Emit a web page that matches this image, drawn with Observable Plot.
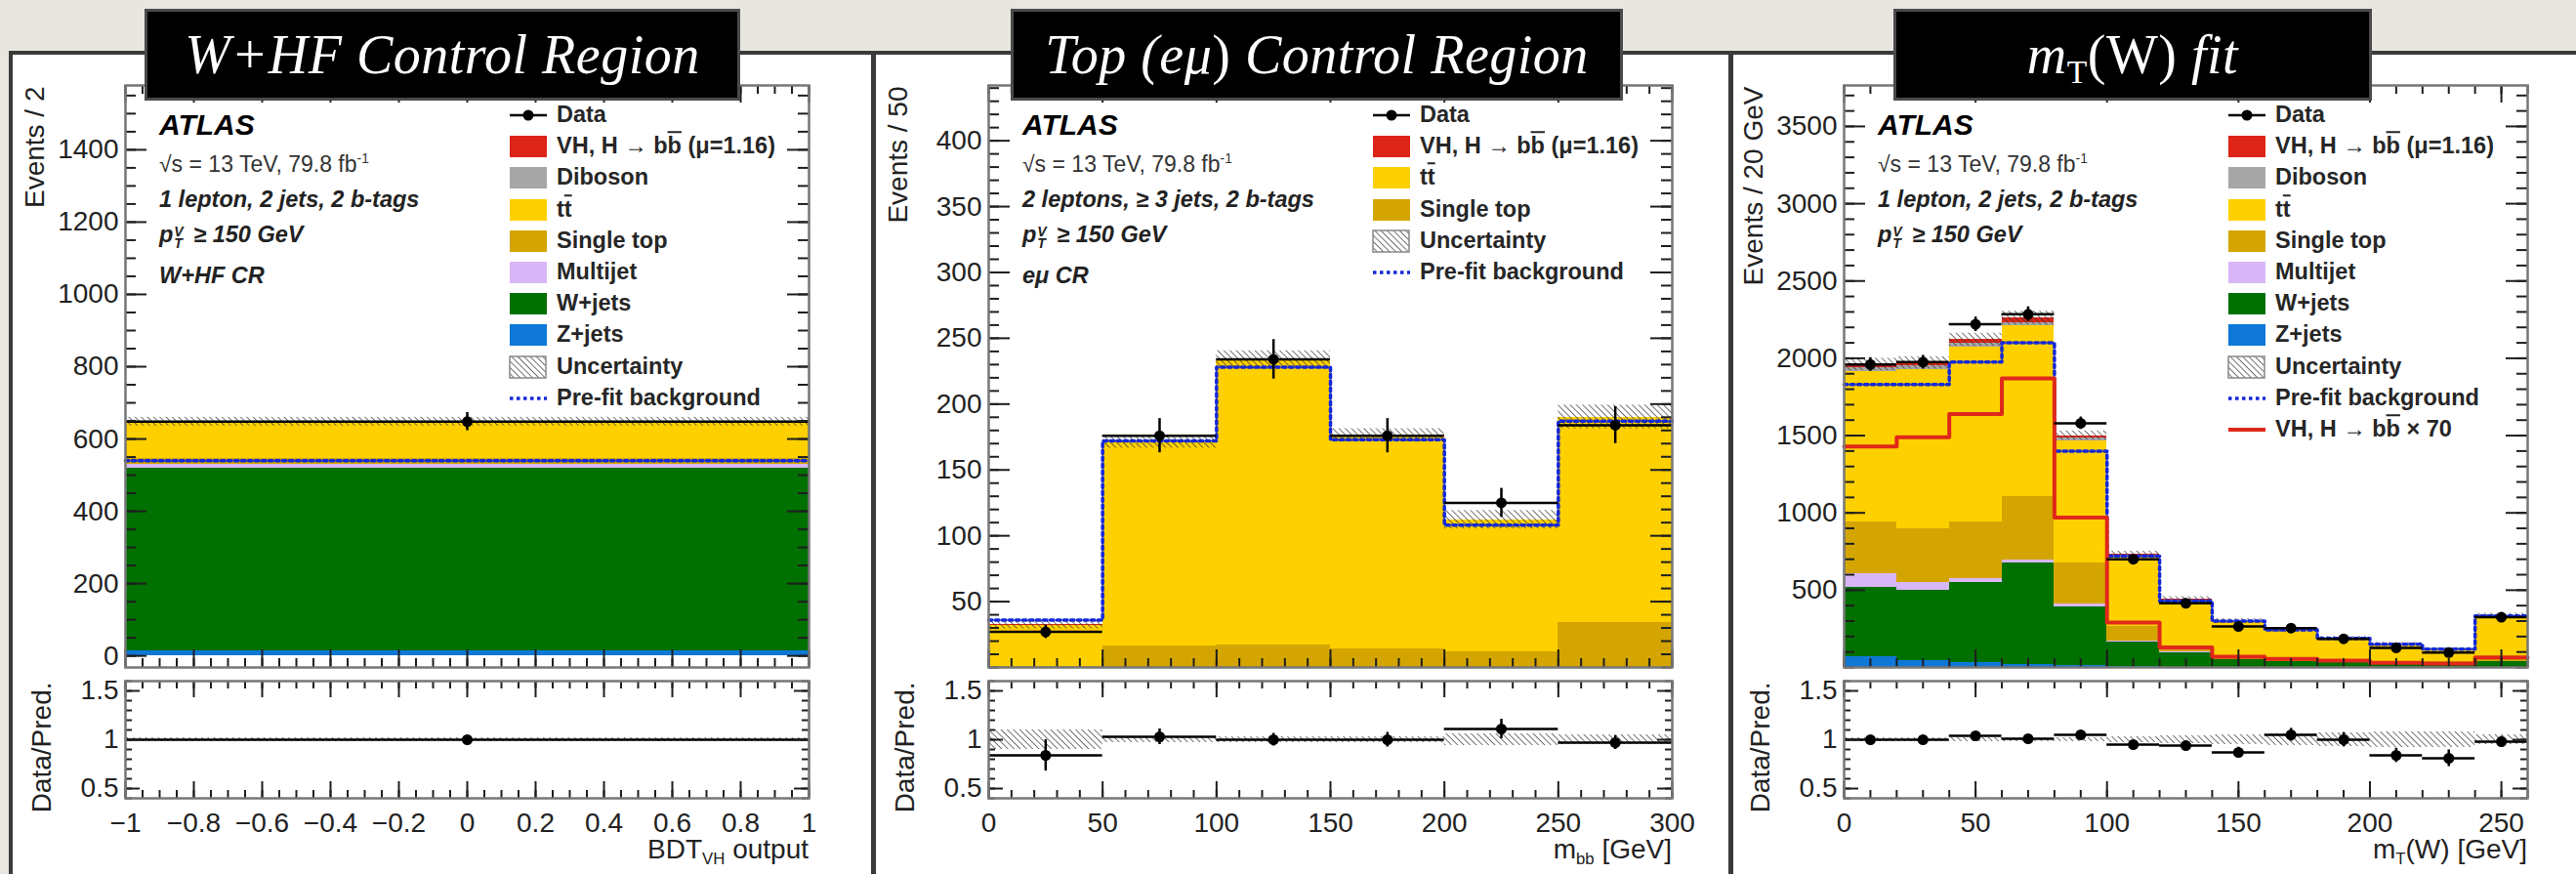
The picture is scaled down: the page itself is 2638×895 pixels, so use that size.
<!DOCTYPE html>
<html><head><meta charset="utf-8">
<script src="https://cdn.jsdelivr.net/npm/d3@7"></script>
<script src="https://cdn.jsdelivr.net/npm/@observablehq/plot@0.6"></script>
<style>
html,body{margin:0;padding:0;}
body{width:2638px;height:895px;overflow:hidden;background:#e9e6e2;position:relative;font-family:"Liberation Sans",Arial,Helvetica,sans-serif;color:#1a1a1a;}
#frame{position:absolute;left:9px;top:52px;width:2720px;height:900px;border:4px solid #3a3a3a;background:#fff;box-sizing:border-box;}
.divider{position:absolute;top:52px;width:5px;height:860px;background:#3a3a3a;}
.title{position:absolute;top:9px;height:94px;background:#000;border:3px solid #4a4a4a;box-sizing:border-box;color:#fff;font-family:"Liberation Serif","DejaVu Serif",serif;font-style:italic;font-size:56px;letter-spacing:0.5px;display:flex;align-items:center;justify-content:center;white-space:nowrap;}
.title .up{font-style:normal;}
.title sub{font-size:0.6em;font-style:normal;vertical-align:-0.3em;line-height:0;}
.t{position:absolute;white-space:nowrap;line-height:1;}
.leg{font-size:23.5px;font-weight:bold;color:#262626;}
.atlas{font-size:30px;font-weight:bold;font-style:italic;color:#000;}
.sq{font-size:23px;color:#333;}
.sq sup{font-size:0.6em;vertical-align:0.7em;}
.bi{font-size:23.5px;font-weight:bold;font-style:italic;color:#222;}
.ss{display:inline-block;vertical-align:-0.45em;line-height:0.9;font-size:0.6em;margin:0 4px 0 1px;}
.ss span{display:block;}
.ov{text-decoration:overline;}
.xt{font-size:28px;color:#222;}
.xt sub{font-size:0.6em;vertical-align:-0.35em;}
svg.plotsvg{position:absolute;}
</style>
</head><body>
<div id="frame"></div>
<div class="divider" style="left:892px"></div>
<div class="divider" style="left:1770px"></div>
<svg width="0" height="0" style="position:absolute">
  <defs>
    <pattern id="hatch" patternUnits="userSpaceOnUse" width="4.5" height="4.5" patternTransform="rotate(-45)">
      <line x1="0" y1="0" x2="0" y2="4.5" stroke="#3a3a3a" stroke-width="1.4"/>
    </pattern>
  </defs>
</svg>
<script>
// ===================== DATA =====================
// Component names and colours (stack order bottom -> top)
const compNames  = ["Zjets", "Wjets", "Multijet", "SingleTop", "ttbar", "Diboson", "VH"];
const compColors = ["#0f78d6", "#007000", "#d9b6f7", "#d4a500", "#ffd000", "#a6a6a6", "#dc2418"];

// ---- Panel 1 : W+HF control region (single BDT_VH bin) ----
const p1Edges     = [-1, 1];
const p1Zjets     = [15];
const p1Wjets     = [504];
const p1Multijet  = [11];
const p1SingleTop = [15];
const p1Ttbar     = [98];
const p1Diboson   = [3];
const p1VH        = [2];
const p1Unc       = [12];
const p1Prefit    = [540];
const p1Data      = [648];
const p1DataErr   = [25];
const p1Ratio     = [1.0];
const p1RatioErr  = [0.04];
const p1RatioUnc  = [0.02];
const p1YTicks    = [0, 200, 400, 600, 800, 1000, 1200, 1400];
const p1XTicks    = [-1, -0.8, -0.6, -0.4, -0.2, 0, 0.2, 0.4, 0.6, 0.8, 1];

// ---- Panel 2 : Top (e mu) control region, m_bb ----
const p2Edges     = [0, 50, 100, 150, 200, 250, 300];
const p2SingleTop = [1, 16, 17, 14, 12, 34];
const p2Ttbar     = [31, 155, 216, 162, 100, 156];
const p2VH        = [0.3, 0.5, 0.5, 0.3, 0.2, 0.2];
const p2Unc       = [3, 5, 7, 5, 7, 9];
const p2Prefit    = [36, 172, 228, 173, 108, 187];
const p2Data      = [27, 176, 234, 176, 125, 184];
const p2DataErr   = [5, 13, 15, 13, 11, 14];
const p2Ratio     = [0.84, 1.03, 1.0, 1.0, 1.11, 0.97];
const p2RatioErr  = [0.16, 0.08, 0.065, 0.075, 0.1, 0.07];
const p2RatioUnc  = [0.1, 0.03, 0.03, 0.03, 0.06, 0.05];
const p2YTicks    = [50, 100, 150, 200, 250, 300, 350, 400];
const p2XTicks    = [0, 50, 100, 150, 200, 250, 300];

// ---- Panel 3 : m_T(W) fit ----
const p3Edges     = [0, 20, 40, 60, 80, 100, 120, 140, 160, 180, 200, 220, 240, 260];
const p3Zjets     = [70, 45, 30, 20, 10, 5, 3, 2, 2, 1, 1, 1, 2];
const p3Wjets     = [449, 455, 521, 653, 380, 161, 93, 49, 36, 29, 29, 29, 36];
const p3Multijet  = [86, 51, 22, 21, 18, 3, 2, 1, 1, 1, 1, 1, 2];
const p3SingleTop = [338, 347, 370, 414, 265, 95, 30, 15, 10, 8, 6, 5, 15];
const p3Ttbar     = [972, 1026, 1129, 1100, 793, 452, 304, 228, 190, 145, 110, 80, 273];
const p3Diboson   = [25, 25, 25, 25, 20, 10, 6, 4, 3, 3, 2, 2, 4];
const p3VH        = [20, 21, 23, 27, 14, 4, 2, 1, 1, 1, 0.5, 0.5, 1];
const p3Unc       = [40, 40, 42, 45, 30, 22, 18, 15, 15, 13, 12, 9, 17];
const p3Prefit    = [1830, 1830, 1975, 2100, 1400, 720, 430, 300, 243, 188, 150, 118, 333];
const p3VHx70     = [1430, 1490, 1640, 1870, 970, 290, 130, 70, 55, 45, 30, 25, 65];
const p3Data      = [1960, 1975, 2220, 2285, 1580, 700, 415, 265, 255, 185, 127, 96, 325];
const p3DataErr   = [44, 44, 47, 48, 40, 26, 20, 16, 16, 14, 11, 10, 18];
const p3Ratio     = [1.0, 1.0, 1.04, 1.01, 1.05, 0.95, 0.94, 0.87, 1.05, 1.0, 0.84, 0.81, 0.98];
const p3RatioErr  = [0.022, 0.022, 0.022, 0.021, 0.027, 0.036, 0.045, 0.053, 0.066, 0.074, 0.073, 0.085, 0.054];
const p3RatioUnc  = [0.02, 0.02, 0.02, 0.02, 0.02, 0.03, 0.04, 0.05, 0.06, 0.07, 0.08, 0.08, 0.05];
const p3YTicks    = [500, 1000, 1500, 2000, 2500, 3000, 3500];
const p3XTicks    = [0, 50, 100, 150, 200, 250];

const ratioYTicks = [0.5, 1, 1.5];

// ===================== HELPERS =====================
const W = 700, HM = 596, HR = 120, ML = 122, MR = 8, MT = 8;
const minus = d => (d < 0 ? "\u2212" : "") + Math.abs(d);

function stackRows(edges, comps) {
  const rows = [];
  for (let i = 0; i < edges.length - 1; i++) {
    let base = 0;
    for (const c of comps) {
      const v = c.values[i];
      rows.push({x1: edges[i], x2: edges[i + 1], y1: base, y2: base + v, comp: c.name});
      base += v;
    }
  }
  return rows;
}
function totals(edges, comps) {
  return d3.range(edges.length - 1).map(i => d3.sum(comps, c => c.values[i]));
}
function stepPts(edges, vals) {
  const pts = [];
  vals.forEach((v, i) => { pts.push({x: edges[i], y: v}); pts.push({x: edges[i + 1], y: v}); });
  return pts;
}
function tickMarks(xMajor, xMinor, yMajor, yMinor, H, lxM, lxm, lyM, lym) {
  const s = {stroke: "#1e1e1e", strokeWidth: 2};
  return [
    Plot.tickY(yMajor, {y: d => d, insetRight: W - lyM, ...s}),
    Plot.tickY(yMajor, {y: d => d, insetLeft: W - lyM, ...s}),
    Plot.tickY(yMinor, {y: d => d, insetRight: W - lym, ...s}),
    Plot.tickY(yMinor, {y: d => d, insetLeft: W - lym, ...s}),
    Plot.tickX(xMajor, {x: d => d, insetTop: H - lxM, ...s}),
    Plot.tickX(xMajor, {x: d => d, insetBottom: H - lxM, ...s}),
    Plot.tickX(xMinor, {x: d => d, insetTop: H - lxm, ...s}),
    Plot.tickX(xMinor, {x: d => d, insetBottom: H - lxm, ...s})
  ];
}
const baseStyle = {fontFamily: "'Liberation Sans', Arial, Helvetica, sans-serif", fontSize: "28px", color: "#222", background: "none", maxWidth: "none", overflow: "visible"};

function mainPanel(cfg) {
  const e = cfg.edges;
  const rows = stackRows(e, cfg.comps);
  const tot = totals(e, cfg.comps);
  const unc = tot.map((t, i) => ({x1: e[i], x2: e[i + 1], y1: t - cfg.unc[i], y2: t + cfg.unc[i]}));
  const data = cfg.data.map((v, i) => ({x: (e[i] + e[i + 1]) / 2, x1: e[i], x2: e[i + 1], y: v, lo: v - cfg.dataErr[i], hi: v + cfg.dataErr[i]}));
  const yMinor = d3.range(Math.ceil(cfg.yDomain[0] / cfg.yMinorStep) * cfg.yMinorStep, cfg.yDomain[1], cfg.yMinorStep);
  const xMinor = d3.range(cfg.xDomain[0], cfg.xDomain[1] + 1e-9, cfg.xMinorStep);
  const marks = [
    Plot.rect(rows, {x1: "x1", x2: "x2", y1: "y1", y2: "y2", fill: "comp", shapeRendering: "crispEdges"}),
    Plot.rect(unc, {x1: "x1", x2: "x2", y1: "y1", y2: "y2", fill: "url(#hatch)"}),
    Plot.line(stepPts(e, cfg.prefit), {x: "x", y: "y", stroke: "#1428d8", strokeWidth: 3.5, strokeDasharray: "3.5,3.5"})
  ];
  if (cfg.vh70) marks.push(Plot.line(stepPts(e, cfg.vh70), {x: "x", y: "y", stroke: "#e0281a", strokeWidth: 4}));
  marks.push(
    Plot.ruleY(data, {y: "y", x1: "x1", x2: "x2", stroke: "#000", strokeWidth: 2.5}),
    Plot.ruleX(data, {x: "x", y1: "lo", y2: "hi", stroke: "#000", strokeWidth: 2.5}),
    Plot.dot(data, {x: "x", y: "y", r: 5.5, fill: "#000"}),
    ...tickMarks(cfg.xTicks, xMinor, cfg.yTicks, yMinor, HM, 18, 9, 22, 11),
    Plot.axisY(cfg.yTicks, {anchor: "left", tickSize: 0, tickPadding: 7, fontSize: 28, tickFormat: d => String(d)}),
    Plot.text([cfg.yTitle], {text: d => d, frameAnchor: "top-left", rotate: -90, textAnchor: "end", lineAnchor: "middle", dx: -92, dy: 1, fontSize: 28, fill: "#222"}),
    Plot.frame({stroke: "#777", strokeWidth: 2.5})
  );
  const svg = Plot.plot({
    width: W + ML + MR, height: HM + 2 * MT, marginLeft: ML, marginRight: MR, marginTop: MT, marginBottom: MT,
    x: {domain: cfg.xDomain, axis: null}, y: {domain: cfg.yDomain, axis: null},
    color: {domain: compNames, range: compColors},
    style: baseStyle, marks
  });
  svg.classList.add("plotsvg");
  svg.style.left = (cfg.L - ML) + "px"; svg.style.top = (87 - MT) + "px";
  document.body.appendChild(svg);
}

function ratioPanel(cfg) {
  const e = cfg.edges;
  const band = cfg.ratioUnc.map((u, i) => ({x1: e[i], x2: e[i + 1], y1: 1 - u, y2: 1 + u}));
  const pts = cfg.ratio.map((v, i) => ({x: (e[i] + e[i + 1]) / 2, x1: e[i], x2: e[i + 1], y: v, lo: v - cfg.ratioErr[i], hi: v + cfg.ratioErr[i]}));
  const xMinor = d3.range(cfg.xDomain[0], cfg.xDomain[1] + 1e-9, cfg.xMinorStep);
  const yMinor = d3.range(0.4, 1.6001, 0.1);
  const svg = Plot.plot({
    width: W + ML + MR, height: HR + MT + 62, marginLeft: ML, marginRight: MR, marginTop: MT, marginBottom: 62,
    x: {domain: cfg.xDomain, axis: null}, y: {domain: [0.4, 1.6], axis: null},
    style: baseStyle,
    marks: [
      Plot.rect(band, {x1: "x1", x2: "x2", y1: "y1", y2: "y2", fill: "url(#hatch)"}),
      Plot.ruleY(pts, {y: "y", x1: "x1", x2: "x2", stroke: "#000", strokeWidth: 2.5}),
      Plot.ruleX(pts, {x: "x", y1: "lo", y2: "hi", stroke: "#000", strokeWidth: 2.5}),
      Plot.dot(pts, {x: "x", y: "y", r: 5.5, fill: "#000"}),
      ...tickMarks(cfg.xTicks, xMinor, ratioYTicks, yMinor, HR, 17, 8, 15, 7),
      Plot.axisY(ratioYTicks, {anchor: "left", tickSize: 0, tickPadding: 7, fontSize: 28, tickFormat: d => String(d)}),
      Plot.axisX(cfg.xTicks, {anchor: "bottom", tickSize: 0, tickPadding: 15, fontSize: 28, tickFormat: minus}),
      Plot.text(["Data/Pred."], {text: d => d, frameAnchor: "top-left", rotate: -90, textAnchor: "end", lineAnchor: "middle", dx: -85, dy: 1, fontSize: 28, fill: "#222"}),
      Plot.frame({stroke: "#777", strokeWidth: 2.5})
    ]
  });
  svg.classList.add("plotsvg");
  svg.style.left = (cfg.L - ML) + "px"; svg.style.top = (697 - MT) + "px";
  document.body.appendChild(svg);
}

function txt(html, x, yc, cls, right) {
  const d = document.createElement("div");
  d.className = "t " + cls;
  d.innerHTML = html;
  d.style.left = x + "px"; d.style.top = yc + "px";
  d.style.transform = right ? "translate(-100%,-50%)" : "translateY(-50%)";
  document.body.appendChild(d);
}
function swatch(kind, color, x, yc) {
  const ns = "http://www.w3.org/2000/svg";
  const s = document.createElementNS(ns, "svg");
  s.setAttribute("width", 40); s.setAttribute("height", 26);
  s.style.position = "absolute"; s.style.left = x + "px"; s.style.top = (yc - 13) + "px";
  let inner = "";
  if (kind === "fill") inner = `<rect x="1" y="2" width="38" height="22" fill="${color}"/>`;
  else if (kind === "hatch") inner = `<rect x="1" y="2" width="37" height="22" fill="url(#hatch)" stroke="#888" stroke-width="1.5"/>`;
  else if (kind === "data") inner = `<line x1="1" x2="39" y1="13" y2="13" stroke="#000" stroke-width="2.5"/><circle cx="20" cy="13" r="5.5" fill="#000"/>`;
  else if (kind === "dots") inner = `<line x1="1" x2="39" y1="13" y2="13" stroke="#1428d8" stroke-width="3.5" stroke-dasharray="3.5,3.5"/>`;
  else if (kind === "red") inner = `<line x1="1" x2="39" y1="13" y2="13" stroke="#e0281a" stroke-width="4"/>`;
  s.innerHTML = inner;
  document.body.appendChild(s);
}
const colorOf = n => compColors[compNames.indexOf(n)];
const VHlab = "VH, H \u2192 b<span class='ov'>b</span> (\u03bc=1.16)";
const legAll = [
  ["data", null, "Data"], ["fill", "VH", VHlab], ["fill", "Diboson", "Diboson"],
  ["fill", "ttbar", "t<span class='ov'>t</span>"], ["fill", "SingleTop", "Single top"],
  ["fill", "Multijet", "Multijet"], ["fill", "Wjets", "W+jets"], ["fill", "Zjets", "Z+jets"],
  ["hatch", null, "Uncertainty"], ["dots", null, "Pre-fit background"]
];
const legP2 = [
  ["data", null, "Data"], ["fill", "VH", VHlab], ["fill", "ttbar", "t<span class='ov'>t</span>"],
  ["fill", "SingleTop", "Single top"], ["hatch", null, "Uncertainty"], ["dots", null, "Pre-fit background"]
];
const legP3 = legAll.concat([["red", null, "VH, H \u2192 b<span class='ov'>b</span> \u00d7 70"]]);

function legend(L, entries) {
  entries.forEach((en, k) => {
    const yc = 118 + 32.2 * k;
    swatch(en[0], en[1] ? colorOf(en[1]) : null, L + 393, yc);
    txt(en[2], L + 442, yc, "leg");
  });
}
const ptv = "<i>p</i><span class='ss'><span>V</span><span>T</span></span> \u2265 150 GeV";
function atlasText(L, lines) {
  txt("ATLAS", L + 35, 128, "atlas");
  txt("\u221as = 13 TeV, 79.8 fb<sup>-1</sup>", L + 35, 168, "sq");
  const ys = [205, 243, 283];
  lines.forEach((l, i) => txt(l, L + 35, ys[i], "bi"));
}

// ===================== BUILD =====================
const panels = [
  {L: 128, edges: p1Edges, xDomain: [-1, 1], xTicks: p1XTicks, xMinorStep: 0.05, yDomain: [-32, 1578], yTicks: p1YTicks, yMinorStep: 50,
   comps: [{name: "Zjets", values: p1Zjets}, {name: "Wjets", values: p1Wjets}, {name: "Multijet", values: p1Multijet}, {name: "SingleTop", values: p1SingleTop}, {name: "ttbar", values: p1Ttbar}, {name: "Diboson", values: p1Diboson}, {name: "VH", values: p1VH}],
   unc: p1Unc, prefit: p1Prefit, data: p1Data, dataErr: p1DataErr, ratio: p1Ratio, ratioErr: p1RatioErr, ratioUnc: p1RatioUnc, yTitle: "Events / 2"},
  {L: 1012, edges: p2Edges, xDomain: [0, 300], xTicks: p2XTicks, xMinorStep: 10, yDomain: [0, 442], yTicks: p2YTicks, yMinorStep: 10,
   comps: [{name: "SingleTop", values: p2SingleTop}, {name: "ttbar", values: p2Ttbar}, {name: "VH", values: p2VH}],
   unc: p2Unc, prefit: p2Prefit, data: p2Data, dataErr: p2DataErr, ratio: p2Ratio, ratioErr: p2RatioErr, ratioUnc: p2RatioUnc, yTitle: "Events / 50"},
  {L: 1888, edges: p3Edges, xDomain: [0, 260], xTicks: p3XTicks, xMinorStep: 10, yDomain: [0, 3765], yTicks: p3YTicks, yMinorStep: 100,
   comps: [{name: "Zjets", values: p3Zjets}, {name: "Wjets", values: p3Wjets}, {name: "Multijet", values: p3Multijet}, {name: "SingleTop", values: p3SingleTop}, {name: "ttbar", values: p3Ttbar}, {name: "Diboson", values: p3Diboson}, {name: "VH", values: p3VH}],
   unc: p3Unc, prefit: p3Prefit, vh70: p3VHx70, data: p3Data, dataErr: p3DataErr, ratio: p3Ratio, ratioErr: p3RatioErr, ratioUnc: p3RatioUnc, yTitle: "Events / 20 GeV"}
];
panels.forEach(p => { mainPanel(p); ratioPanel(p); });

atlasText(128, ["1 lepton, 2 jets, 2 b-tags", ptv, "W+HF CR"]);
atlasText(1012, ["2 leptons, \u2265 3 jets, 2 b-tags", ptv, "e\u03bc CR"]);
atlasText(1888, ["1 lepton, 2 jets, 2 b-tags", ptv]);
legend(128, legAll);
legend(1012, legP2);
legend(1888, legP3);

txt("BDT<sub>VH</sub> output", 828, 872, "xt", true);
txt("m<sub>bb</sub> [GeV]", 1712, 872, "xt", true);
txt("m<sub>T</sub>(W) [GeV]", 2588, 872, "xt", true);

// Title boxes
function titleBox(left, right, html) {
  const d = document.createElement("div");
  d.className = "title";
  d.style.left = left + "px"; d.style.width = (right - left) + "px";
  d.innerHTML = "<span>" + html + "</span>";
  document.body.appendChild(d);
}
titleBox(148, 758, "W+HF Control Region");
titleBox(1035, 1662, "Top (e\u03bc<span class='up'>)</span> Control Region");
titleBox(1939, 2429, "m<sub>T</sub><span class='up'>(W)</span> fit");
</script>
</body></html>
